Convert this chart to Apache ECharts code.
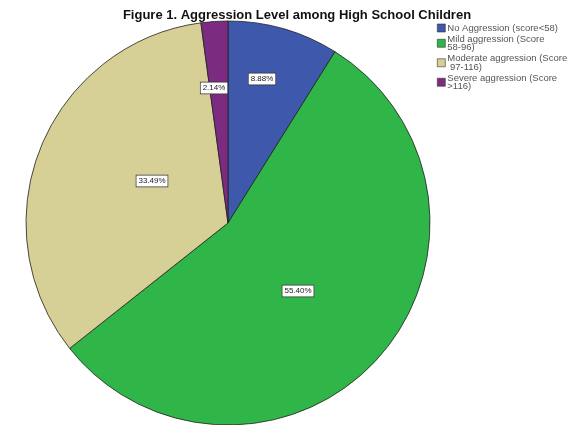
<!DOCTYPE html>
<html>
<head>
<meta charset="utf-8">
<script src="https://cdn.jsdelivr.net/npm/echarts@6/dist/echarts.min.js"></script>
<style>html,body{margin:0;padding:0;background:#fff;}#c{width:585px;height:425px;}</style>
</head>
<body>
<div id="c"></div>
<script>
const categories = ["No Aggression (score<58)", "Mild aggression (Score 58-96)", "Moderate aggression (Score 97-116)", "Severe aggression (Score >116)"];
const values = [8.88, 55.40, 33.49, 2.14];
const colors = ["#3e58ac", "#2fb548", "#d6cf96", "#7b2c81"];
// label anchor positions (px) mimicking SPSS placement
const labelPos = [[262, 79], [298, 291], [152, 181], [214, 88]];

const chart = echarts.init(document.getElementById('c'), null, {renderer: 'canvas'});
chart.setOption({
  animation: false,
  title: {
    text: 'Figure 1. Aggression Level among High School Children',
    left: 292, top: 4, textAlign: 'center',
    textStyle: {fontFamily: 'Liberation Sans', fontWeight: 'bold', fontSize: 13, color: '#111'}
  },
  legend: {
    orient: 'vertical', left: 435, top: 21, padding: [2, 2, 2, 2],
    itemWidth: 8, itemHeight: 8, itemGap: 1,
    icon: 'rect',
    itemStyle: {borderColor: '#333', borderWidth: 0.6},
    textStyle: {fontFamily: 'Liberation Sans', fontSize: 9.5, color: '#555', width: 122, overflow: 'break', lineHeight: 8.5, padding: [0,0,0,-3]},
    data: categories
  },
  series: [{
    type: 'pie',
    center: [228, 223],
    radius: 202,
    startAngle: 90,
    clockwise: true,
    itemStyle: {borderColor: '#222', borderWidth: 0.8},
    label: {
      show: true, position: 'inside',
      formatter: p => p.value.toFixed(2) + '%',
      fontFamily: 'Liberation Sans', fontSize: 8, color: '#222',
      backgroundColor: '#fff', borderColor: '#333', borderWidth: 0.7, padding: [2, 2, 1, 2]
    },
    labelLayout: p => ({x: labelPos[p.dataIndex][0], y: labelPos[p.dataIndex][1], align: 'center', verticalAlign: 'middle'}),
    emphasis: {disabled: true},
    data: categories.map((c, i) => ({name: c, value: values[i], itemStyle: {color: colors[i]}}))
  }]
});
</script>
</body>
</html>
